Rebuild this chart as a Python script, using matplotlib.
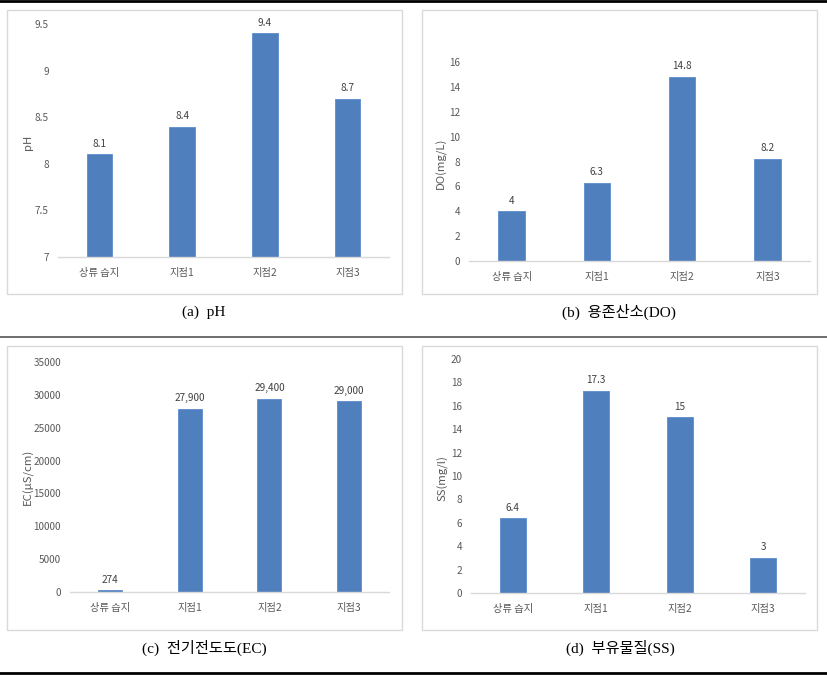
import matplotlib
matplotlib.use("Agg")
import matplotlib.pyplot as plt
from matplotlib.patches import Rectangle
from matplotlib.ticker import FuncFormatter

plt.rcParams['font.family'] = ['Noto Sans CJK KR', 'DejaVu Sans']

W, H = 827, 675

sites = ['상류 습지', '지점1', '지점2', '지점3']

ph_values = [8.1, 8.4, 9.4, 8.7]
do_values = [4, 6.3, 14.8, 8.2]
ec_values = [274, 27900, 29400, 29000]
ss_values = [6.4, 17.3, 15, 3]

ylabels = ['pH', 'DO(mg/L)', 'EC(μS/cm)', 'SS(mg/l)']
captions = ['(a)  pH', '(b)  용존산소(DO)', '(c)  전기전도도(EC)', '(d)  부유물질(SS)']

BAR = '#4f7fbd'
EDGE = '#5b8bcc'
GRAY = '#595959'


def frac(left, top, right, bottom):
    return [left / W, 1 - bottom / H, (right - left) / W, (bottom - top) / H]


fig = plt.figure(figsize=(W / 100, H / 100), dpi=100)

# layout: axes box, outer frame, ylabel pos, caption pos, y limits, y step
panels = [
    dict(vals=ph_values, ax=(58, 24, 389, 257), box=(7, 10, 402, 294),
         yl=(28, 142), cap=(204, 312), ylim=(7, 9.5), step=0.5, width=0.31, fmt='{:g}'),
    dict(vals=do_values, ax=(469, 62, 810, 261), box=(422, 10, 817, 294),
         yl=(441, 163), cap=(619, 312), ylim=(0, 16), step=2, width=0.31, fmt='{:g}'),
    dict(vals=ec_values, ax=(70, 362, 389, 592), box=(7, 346, 402, 630),
         yl=(28, 477), cap=(204, 648), ylim=(0, 35000), step=5000, width=0.30, fmt='{:,}'),
    dict(vals=ss_values, ax=(471, 359, 805, 593), box=(422, 346, 817, 630),
         yl=(443, 478), cap=(620, 648), ylim=(0, 20), step=2, width=0.31, fmt='{:g}'),
]

for i, p in enumerate(panels):
    bl, bt, br, bb = p['box']
    fig.patches.append(Rectangle((bl / W, 1 - bb / H), (br - bl) / W, (bb - bt) / H,
                                 transform=fig.transFigure, fill=False,
                                 edgecolor='#d9d9d9', linewidth=1.0))

    ax = fig.add_axes(frac(*p['ax']))
    x = range(len(sites))
    bars = ax.bar(x, p['vals'], width=p['width'], color=BAR, edgecolor=EDGE,
                  linewidth=0.6, zorder=2)
    lo, hi = p['ylim']
    ax.set_xlim(-0.5, len(sites) - 0.5)
    ax.set_ylim(lo, hi)
    ticks = []
    t = lo
    while t <= hi + 1e-9:
        ticks.append(t)
        t += p['step']
    ax.set_yticks(ticks)
    ax.yaxis.set_major_formatter(FuncFormatter(lambda v, pos: '{:g}'.format(v)))
    ax.set_xticks(list(x))
    ax.set_xticklabels(sites)
    ax.tick_params(axis='y', length=0, pad=6.5, labelsize=7.2, labelcolor=GRAY)
    ax.tick_params(axis='x', length=0, pad=8, labelsize=7.4, labelcolor=GRAY)
    for side in ['top', 'right', 'left']:
        ax.spines[side].set_visible(False)
    ax.spines['bottom'].set_color('#d9d9d9')
    ax.spines['bottom'].set_linewidth(1.0)

    for rect, v in zip(bars, p['vals']):
        ax.annotate(p['fmt'].format(v), (rect.get_x() + rect.get_width() / 2, v),
                    xytext=(0, 4), textcoords='offset points', ha='center',
                    va='bottom', fontsize=7.2, color='#404040')

    fig.text(p['yl'][0] / W, 1 - p['yl'][1] / H, ylabels[i], rotation=90,
             ha='center', va='center', fontsize=8.2, color=GRAY)
    fig.text(p['cap'][0] / W, 1 - p['cap'][1] / H, captions[i], ha='center',
             va='center', fontsize=11, color='black',
             family=['Liberation Serif', 'Noto Sans CJK KR'])

# horizontal rules
fig.add_artist(plt.Line2D([0, 1], [1 - 1 / H, 1 - 1 / H], color='black', linewidth=2.0))
fig.add_artist(plt.Line2D([0, 1], [1 - 337 / H, 1 - 337 / H], color='#555555', linewidth=1.2))
fig.add_artist(plt.Line2D([0, 1], [1 - 672.5 / H, 1 - 672.5 / H], color='black', linewidth=2.0))

fig.savefig('out.png', dpi=100)
